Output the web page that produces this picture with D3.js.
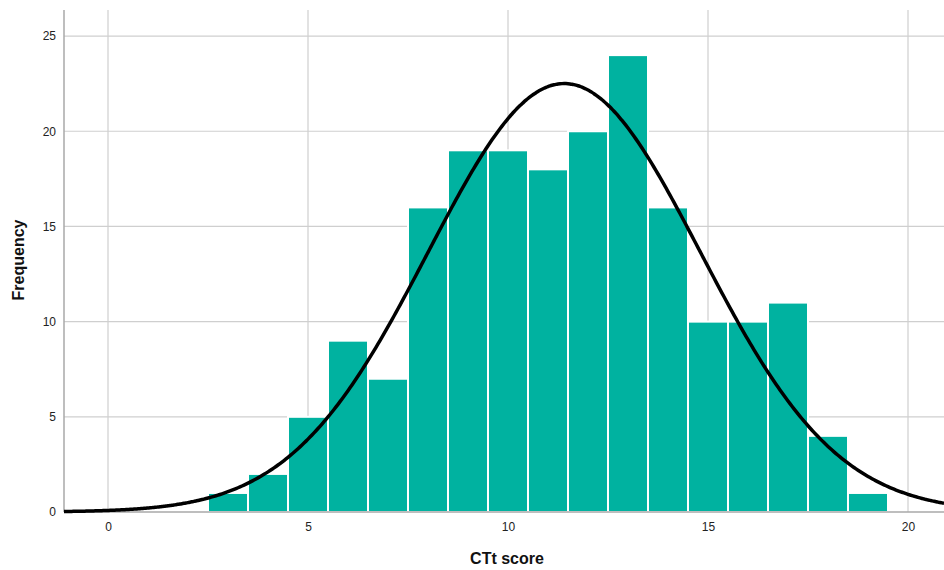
<!DOCTYPE html>
<html>
<head>
<meta charset="utf-8">
<script src="https://cdn.jsdelivr.net/npm/d3@7"></script>
<style>
  html, body { margin: 0; padding: 0; background: #fff; }
  svg { display: block; font-family: Arial, "Liberation Sans", sans-serif; }
</style>
</head>
<body>
<svg id="chart" width="944" height="570"></svg>
<script>
// CTt score histogram: bin centres and their counts
const binCenters = [3, 4, 5, 6, 7, 8, 9, 10, 11, 12, 13, 14, 15, 16, 17, 18, 19];
const frequencies = [1, 2, 5, 9, 7, 16, 19, 19, 18, 20, 24, 16, 10, 10, 11, 4, 1];
const binWidth = 1;
const xTicks = [0, 5, 10, 15, 20];
const yTicks = [0, 5, 10, 15, 20, 25];
const xLabel = "CTt score";
const yLabel = "Frequency";

const svg = d3.select("#chart");
const W = 944, H = 570;
const margin = { left: 64, right: 0, top: 10, bottom: 58 };

const x = d3.scaleLinear().domain([-1.1, 20.9]).range([margin.left, W - margin.right]);
const y = d3.scaleLinear().domain([0, 26.37]).range([H - margin.bottom, margin.top]);

// grid lines
const grid = svg.append("g");
grid.selectAll("line.v").data(xTicks).join("line")
  .attr("x1", d => x(d)).attr("x2", d => x(d))
  .attr("y1", y.range()[1]).attr("y2", y(0))
  .attr("stroke", "#cfcfcf").attr("stroke-width", 1.2);
grid.selectAll("line.h").data(yTicks.filter(d => d > 0)).join("line")
  .attr("x1", x.range()[0]).attr("x2", x.range()[1])
  .attr("y1", d => y(d)).attr("y2", d => y(d))
  .attr("stroke", "#cfcfcf").attr("stroke-width", 1.2);

// bars
const bins = binCenters.map((c, i) => ({ c, f: frequencies[i] }));
svg.append("g").selectAll("rect").data(bins).join("rect")
  .attr("x", d => x(d.c - binWidth / 2))
  .attr("width", d => x(d.c + binWidth / 2) - x(d.c - binWidth / 2))
  .attr("y", d => y(d.f))
  .attr("height", d => y(0) - y(d.f))
  .attr("fill", "#00b2a0")
  .attr("stroke", "#ffffff")
  .attr("stroke-width", 2);

// axes lines
svg.append("line")
  .attr("x1", x.range()[0]).attr("x2", x.range()[0])
  .attr("y1", y.range()[1]).attr("y2", y(0))
  .attr("stroke", "#a8a8a8").attr("stroke-width", 1.5);
svg.append("line")
  .attr("x1", x.range()[0]).attr("x2", x.range()[1])
  .attr("y1", y(0)).attr("y2", y(0))
  .attr("stroke", "#a8a8a8").attr("stroke-width", 1.5);

// normal curve fitted from the binned counts
const n = d3.sum(frequencies);
const mean = d3.sum(bins, d => d.c * d.f) / n;
const sd = Math.sqrt(d3.sum(bins, d => d.f * (d.c - mean) ** 2) / (n - 1));
const pdf = v => n * binWidth / (sd * Math.sqrt(2 * Math.PI)) * Math.exp(-0.5 * ((v - mean) / sd) ** 2);
const curveXs = d3.range(x.domain()[0], x.domain()[1] + 0.001, 0.05);
svg.append("path")
  .datum(curveXs)
  .attr("fill", "none")
  .attr("stroke", "#000")
  .attr("stroke-width", 3.5)
  .attr("stroke-linejoin", "round")
  .attr("d", d3.line().x(d => x(d)).y(d => y(pdf(d))).curve(d3.curveBasis));

// tick labels
const xAxis = svg.append("g").attr("transform", `translate(0,${y(0)})`)
  .call(d3.axisBottom(x).tickValues(xTicks).tickSize(0).tickPadding(10).tickFormat(d3.format("d")));
xAxis.select(".domain").remove();
xAxis.selectAll("text").attr("font-size", 12).attr("fill", "#222").attr("font-family", "Arial, 'Liberation Sans', sans-serif");

const yAxis = svg.append("g").attr("transform", `translate(${x.range()[0]},0)`)
  .call(d3.axisLeft(y).tickValues(yTicks).tickSize(0).tickPadding(8).tickFormat(d3.format("d")));
yAxis.select(".domain").remove();
yAxis.selectAll("text").attr("font-size", 12).attr("fill", "#222").attr("font-family", "Arial, 'Liberation Sans', sans-serif");

// axis titles
svg.append("text")
  .attr("x", 507).attr("y", 564)
  .attr("text-anchor", "middle")
  .attr("font-size", 16).attr("font-weight", "bold").attr("fill", "#111")
  .text(xLabel);
svg.append("text")
  .attr("transform", `translate(24,${260}) rotate(-90)`)
  .attr("text-anchor", "middle")
  .attr("font-size", 16).attr("font-weight", "bold").attr("fill", "#111")
  .text(yLabel);
</script>
</body>
</html>
